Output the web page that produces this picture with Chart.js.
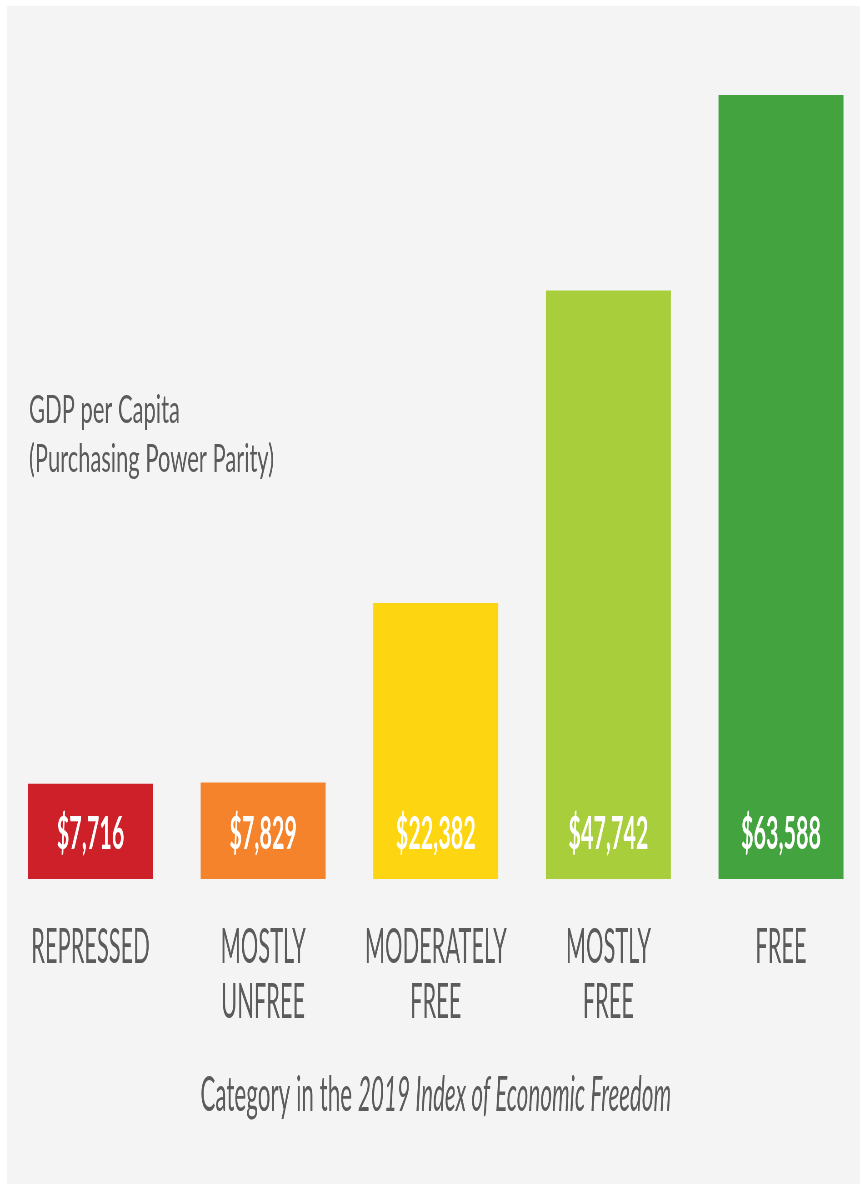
<!DOCTYPE html>
<html>
<head>
<meta charset="utf-8">
<script src="https://cdn.jsdelivr.net/npm/chart.js@4.4.0/dist/chart.umd.min.js"></script>
<style>
  html, body { margin: 0; padding: 0; background: #fff; overflow: hidden; width: 861px; height: 1184px; }
  #panel { position: absolute; left: 7px; top: 6px; width: 853px; height: 1178px; background: #f4f4f4; }
  #chart { position: absolute; left: 0; top: 0; }
</style>
</head>
<body>
<div id="panel"></div>
<canvas id="chart"></canvas>
<script>
// --- data ---
var categories = [['REPRESSED'], ['MOSTLY', 'UNFREE'], ['MODERATELY', 'FREE'], ['MOSTLY', 'FREE'], ['FREE']];
var gdpValues = [7716, 7829, 22382, 47742, 63588];
var barColors = ['#ce2029', '#f5832b', '#fed511', '#a8ce3b', '#43a43f'];
var yAxisTitle = ['GDP per Capita', '(Purchasing Power Parity)'];
var xAxisTitle = [['Category in the ', 'normal'], ['2019 Index of Economic Freedom', 'italic']];

// The reference is squeezed horizontally, so draw wide and let CSS narrow it
var SQUEEZE = 2.2;
var CSS_W = 880, CSS_H = 1184;
var canvas = document.getElementById('chart');
canvas.width = Math.round(CSS_W * SQUEEZE);
canvas.height = CSS_H;
canvas.style.width = CSS_W + 'px';
canvas.style.height = CSS_H + 'px';

var GRAY = '#5b5b5c';
var FONT = 'Lato, "Open Sans", sans-serif';

function money(v) {
    return '$' + v.toLocaleString('en-US');
}

// draw text stretched horizontally by sx around its anchor
function stretchText(ctx, text, x, y, sx) {
    ctx.save();
    ctx.translate(x, y);
    ctx.scale(sx, 1);
    ctx.fillText(text, 0, 0);
    ctx.restore();
}

// value labels inside bars + free text (y title, x title)
var textPlugin = {
    id: 'textPlugin',
    afterDatasetsDraw: function (chart) {
        var ctx = chart.ctx;
        var meta = chart.getDatasetMeta(0);
        ctx.save();
        ctx.fillStyle = '#ffffff';
        ctx.font = 'bold 46px ' + FONT;
        ctx.textAlign = 'center';
        ctx.textBaseline = 'middle';
        meta.data.forEach(function (bar, i) {
            stretchText(ctx, money(gdpValues[i]), bar.x, bar.base - 45, 1.03);
        });
        ctx.restore();
    },
    afterDraw: function (chart) {
        var ctx = chart.ctx;
        ctx.save();
        ctx.fillStyle = GRAY;
        ctx.textBaseline = 'alphabetic';
        ctx.textAlign = 'left';
        ctx.font = '38px ' + FONT;
        stretchText(ctx, yAxisTitle[0], 29 * SQUEEZE, 423, 1.27);
        stretchText(ctx, yAxisTitle[1], 29 * SQUEEZE, 472, 1.27);

        // x title with the italic part
        var sx = 1.03;
        var total = 0;
        xAxisTitle.forEach(function (p) {
            ctx.font = p[1] + ' 48px ' + FONT;
            total += ctx.measureText(p[0]).width * sx;
        });
        var area = chart.chartArea;
        var x = (area.left + area.right) / 2 - total / 2;
        xAxisTitle.forEach(function (p) {
            ctx.font = p[1] + ' 48px ' + FONT;
            stretchText(ctx, p[0], x, 1111, sx);
            x += ctx.measureText(p[0]).width * sx;
        });
        ctx.restore();
    }
};

new Chart(canvas, {
    type: 'bar',
    data: {
        labels: categories,
        datasets: [{
            data: gdpValues,
            backgroundColor: barColors,
            borderWidth: 0,
            barPercentage: 0.724,
            categoryPercentage: 1
        }]
    },
    options: {
        responsive: false,
        devicePixelRatio: 1,
        animation: false,
        layout: {
            padding: { left: 4.2 * SQUEEZE, right: (CSS_W - 867.3) * SQUEEZE, top: 16, bottom: 55 }
        },
        plugins: {
            legend: { display: false },
            tooltip: { enabled: false }
        },
        scales: {
            x: {
                grid: { display: false, drawTicks: false },
                border: { display: false },
                ticks: {
                    color: GRAY,
                    font: { family: FONT, size: 48, lineHeight: '55px' },
                    padding: 41,
                    autoSkip: false,
                    maxRotation: 0
                },
                afterFit: function (scale) { scale.height = 250; }
            },
            y: {
                display: false,
                min: 0,
                max: 70000
            }
        }
    },
    plugins: [textPlugin]
});
</script>
</body>
</html>
